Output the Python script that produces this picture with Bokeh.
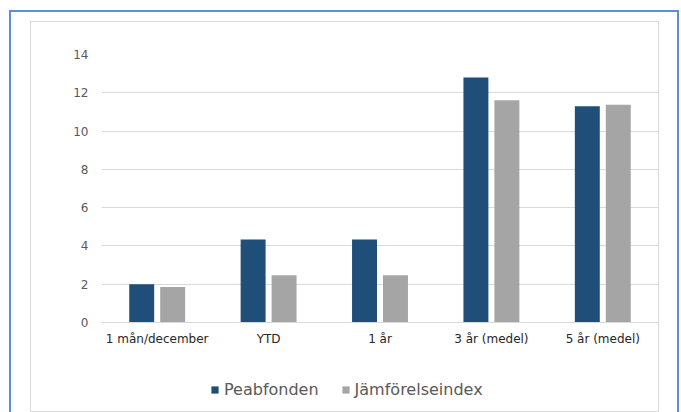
from bokeh.plotting import figure
from bokeh.models import (FactorRange, Range1d, FixedTicker, Legend, LegendItem,
                          ColumnDataSource, GlobalInlineStyleSheet)
from bokeh.transform import dodge
from bokeh.embed import file_html
from bokeh.resources import INLINE

categories = ["1 mån/december", "YTD", "1 år", "3 år (medel)", "5 år (medel)"]
peabfonden = [2.0, 4.34, 4.34, 12.8, 11.3]
jamforelseindex = [1.85, 2.47, 2.47, 11.61, 11.37]
series_names = ["Peabfonden", "Jämförelseindex"]
y_ticks = [0, 2, 4, 6, 8, 10, 12, 14]

FONT = "DejaVu Sans"
W, H = 681, 412
FRAME_TOP = 54          # pixel row of the top gridline
ZERO_ROW = 322          # pixel row of the value axis zero line
Y_MAX = 14
px_per_unit = (ZERO_ROW - FRAME_TOP) / Y_MAX
y_start = Y_MAX - (H - FRAME_TOP) / px_per_unit   # frame runs to the canvas bottom

src = ColumnDataSource(dict(cat=categories, peab=peabfonden, jmf=jamforelseindex))

p = figure(width=W, height=H,
           x_range=FactorRange(factors=categories, range_padding=0),
           y_range=Range1d(y_start, Y_MAX),
           output_backend="svg", toolbar_location=None,
           min_border_left=101, min_border_right=23,
           min_border_top=FRAME_TOP, min_border_bottom=0)
p.outline_line_color = None
p.background_fill_color = "white"
p.border_fill_color = "white"

r1 = p.vbar(x=dodge("cat", -0.139, range=p.x_range), top="peab", bottom=0,
            width=0.224, source=src, fill_color="#1F4E79", line_color=None)
r2 = p.vbar(x=dodge("cat", 0.139, range=p.x_range), top="jmf", bottom=0,
            width=0.224, source=src, fill_color="#A5A5A5", line_color=None)

p.xgrid.grid_line_color = None
p.ygrid.grid_line_color = "#d9d9d9"
p.ygrid.grid_line_width = 1

p.yaxis.ticker = FixedTicker(ticks=y_ticks)
p.yaxis.axis_line_color = None
p.yaxis.major_tick_line_color = None
p.yaxis.minor_tick_line_color = None
p.yaxis.major_tick_out = 0
p.yaxis.major_tick_in = 0
p.yaxis.major_label_standoff = 13
p.yaxis.major_label_text_font = FONT
p.yaxis.major_label_text_font_size = "12px"
p.yaxis.major_label_text_color = "#595959"

p.xaxis.fixed_location = 0
p.xaxis.axis_line_color = "#d9d9d9"
p.xaxis.major_tick_line_color = None
p.xaxis.minor_tick_line_color = None
p.xaxis.major_tick_out = 0
p.xaxis.major_tick_in = 0
p.xaxis.major_label_standoff = 9
p.xaxis.major_label_text_font = FONT
p.xaxis.major_label_text_font_size = "12px"
p.xaxis.major_label_text_color = "#262626"

legend = Legend(items=[LegendItem(label=series_names[0], renderers=[r1]),
                       LegendItem(label=series_names[1], renderers=[r2])],
                location=(109, 13), orientation="horizontal",
                glyph_width=9, glyph_height=9, label_standoff=5, spacing=22,
                label_height=16,
                padding=0, margin=0, border_line_color=None,
                background_fill_alpha=0,
                label_text_font=FONT, label_text_font_size="16px",
                label_text_color="#595959")
p.add_layout(legend)

frames_css = """
body::before {
  content: ""; position: fixed; left: 9px; top: 10px;
  width: 666px; height: 520px; border: 2px solid #5b8fd9;
  box-sizing: content-box; z-index: 10; pointer-events: none;
}
body::after {
  content: ""; position: fixed; left: 30px; top: 21px;
  width: 627px; height: 389px; border: 1px solid #d9d9d9;
  box-sizing: content-box; z-index: 10; pointer-events: none;
}
"""
p.stylesheets = [GlobalInlineStyleSheet(css=frames_css)]

open("out.html", "w").write(file_html(p, INLINE))
